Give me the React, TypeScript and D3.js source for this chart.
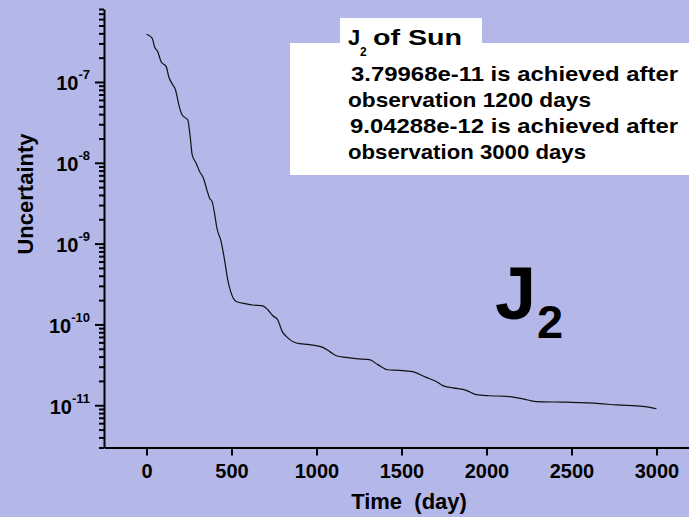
import React, { useEffect, useRef } from 'react'
import * as d3 from 'd3'

// curve (time in days, uncertainty of J2)
const days = [0, 34, 47, 66, 86, 116, 131, 155, 171, 184, 198, 210, 243, 257, 269, 292, 312, 335, 355, 371, 386, 400, 414, 439, 459, 478, 498, 528, 586, 625, 684, 714, 743, 772, 798, 822, 881, 959, 1037, 1076, 1116, 1175, 1234, 1312, 1361, 1419, 1488, 1566, 1645, 1704, 1743, 1802, 1881, 1939, 2018, 2116, 2214, 2292, 2469, 2665, 2763, 2919, 3000]
const uncertainty = [3.89e-7, 3.47e-7, 2.73e-7, 2.37e-7, 1.78e-7, 1.55e-7, 1.16e-7, 9.18e-8, 7.96e-8, 6.0e-8, 4.51e-8, 3.91e-8, 3.39e-8, 2.11e-8, 1.25e-8, 9.9e-9, 7.8e-9, 6.45e-9, 4.63e-9, 3.65e-9, 3.31e-9, 2.38e-9, 1.56e-9, 1.06e-9, 6.3e-10, 3.57e-10, 2.44e-10, 1.92e-10, 1.80e-10, 1.74e-10, 1.70e-10, 1.52e-10, 1.28e-10, 1.14e-10, 8.2e-11, 7.1e-11, 5.89e-11, 5.61e-11, 5.2e-11, 4.64e-11, 4.1e-11, 3.91e-11, 3.77e-11, 3.66e-11, 3.18e-11, 2.75e-11, 2.70e-11, 2.60e-11, 2.21e-11, 1.97e-11, 1.75e-11, 1.64e-11, 1.53e-11, 1.35e-11, 1.31e-11, 1.29e-11, 1.20e-11, 1.11e-11, 1.09e-11, 1.05e-11, 1.01e-11, 9.7e-12, 9.04e-12]

const xMajor = [0, 500, 1000, 1500, 2000, 2500, 3000]
const xMinor = [-250, 250, 750, 1250, 1750, 2250, 2750, 3250]
const yMajor = [1e-7, 1e-8, 1e-9, 1e-10, 1e-11]
const yExponents = ['-7', '-8', '-9', '-10', '-11']

const noteTitle = ['J', '2', 'of Sun']
const noteLines = [
  '3.79968e-11 is achieved after',
  'observation 1200 days',
  '9.04288e-12 is achieved after',
  'observation 3000 days',
]

const W = 689
const H = 517
const BG = '#b4b8e9'
const FONT = '"Liberation Sans", Arial, Helvetica, sans-serif'

export default function App() {
  const ref = useRef<SVGSVGElement>(null)

  useEffect(() => {
    const svg = d3.select(ref.current)
    svg.selectAll('*').remove()

    /* scales */
    const x = d3.scaleLinear().domain([-250, 3250]).range([104, 699])
    const y = d3.scaleLog().domain([3e-12, 8e-7]).range([447.5, 9])
    const x0 = x(-250)
    const y0 = y(3e-12)

    svg.append('rect').attr('width', W).attr('height', H).attr('fill', BG)

    /* x axis */
    const xg = svg.append('g').attr('transform', `translate(0,${y0})`)
    xg.call(d3.axisBottom(x).tickValues(xMinor).tickSize(5).tickSizeOuter(0).tickFormat(() => ''))
    xg.call(d3.axisBottom(x).tickValues(xMajor).tickSize(8).tickSizeOuter(0).tickPadding(8).tickFormat(d3.format('d')) as any)
    xg.selectAll('path, line').attr('stroke', '#000').attr('stroke-width', 2)
    xg.selectAll('text')
      .attr('font-family', FONT).attr('font-size', 20).attr('font-weight', 'bold').attr('fill', '#000')

    /* y axis */
    const minorY = y.ticks().filter((d) => !yMajor.some((m) => Math.abs(d / m - 1) < 1e-6))
    const yg = svg.append('g').attr('transform', `translate(${x0},0)`)
    yg.append('g').call(d3.axisLeft(y).tickValues(minorY).tickSize(5).tickSizeOuter(0).tickFormat(() => ''))
    const ym = yg.append('g').call(d3.axisLeft(y).tickValues(yMajor).tickSize(9).tickSizeOuter(0).tickPadding(5).tickFormat(() => ''))
    ym.select('.domain').remove()
    yg.selectAll('path, line').attr('stroke', '#000').attr('stroke-width', 2)
    ym.selectAll('.tick text').each(function (_d, i) {
      const t = d3.select(this)
      t.attr('dy', '0.4em').attr('font-family', FONT).attr('font-size', 20)
        .attr('font-weight', 'bold').attr('fill', '#000')
      t.append('tspan').text('10')
      t.append('tspan').attr('dy', -11).attr('font-size', 13).text(yExponents[i])
    })

    /* axis titles */
    svg.append('text')
      .attr('x', 409).attr('y', 509).attr('text-anchor', 'middle')
      .attr('font-family', FONT).attr('font-size', 22).attr('font-weight', 'bold')
      .style('white-space', 'pre').text('Time  (day)')
    svg.append('text')
      .attr('transform', 'translate(33,194) rotate(-90)').attr('text-anchor', 'middle')
      .attr('font-family', FONT).attr('font-size', 22).attr('font-weight', 'bold')
      .text('Uncertainty')

    /* curve */
    const pts = days.map((d, i) => [d, uncertainty[i]] as [number, number])
    svg.append('path')
      .datum(pts)
      .attr('fill', 'none').attr('stroke', '#111').attr('stroke-width', 1.2)
      .attr('d', d3.line<[number, number]>().x((d) => x(d[0])).y((d) => y(d[1])).curve(d3.curveMonotoneX))

    /* big J2 */
    const big = svg.append('text').attr('font-family', FONT).attr('font-weight', 'bold').attr('fill', '#000')
    big.append('tspan').attr('x', 495).attr('y', 319).attr('font-size', 74).text('J')
    big.append('tspan').attr('x', 537).attr('y', 338).attr('font-size', 47).text('2')

    /* note box */
    const note = svg.append('g')
    note.append('rect').attr('x', 290).attr('y', 43).attr('width', 400).attr('height', 132).attr('fill', '#fff')
    note.append('rect').attr('x', 340).attr('y', 18).attr('width', 142).attr('height', 26).attr('fill', '#fff')
    const nt = note.append('text').attr('font-family', FONT).attr('font-weight', 'bold').attr('fill', '#000')
    nt.append('tspan').attr('x', 348).attr('y', 45).attr('font-size', 22).text(noteTitle[0])
    nt.append('tspan').attr('x', 360).attr('y', 56).attr('font-size', 12).text(noteTitle[1])
    note.append('text').attr('x', 373).attr('y', 45)
      .attr('font-family', FONT).attr('font-weight', 'bold').attr('font-size', 22)
      .attr('textLength', 89).attr('lengthAdjust', 'spacingAndGlyphs').text(noteTitle[2])

    const lineX = [351, 348, 350, 348]
    const lineW = [327, 243, 328, 238]
    const lineY = [81, 107, 133, 159]
    noteLines.forEach((s, i) => {
      note.append('text')
        .attr('x', lineX[i]).attr('y', lineY[i])
        .attr('font-family', FONT).attr('font-weight', 'bold').attr('font-size', 21)
        .attr('textLength', lineW[i]).attr('lengthAdjust', 'spacingAndGlyphs')
        .text(s)
    })
  }, [])

  return (
    <svg
      ref={ref}
      width={W}
      height={H}
      style={{ position: 'fixed', left: 0, top: 0, display: 'block', background: BG }}
    />
  )
}
